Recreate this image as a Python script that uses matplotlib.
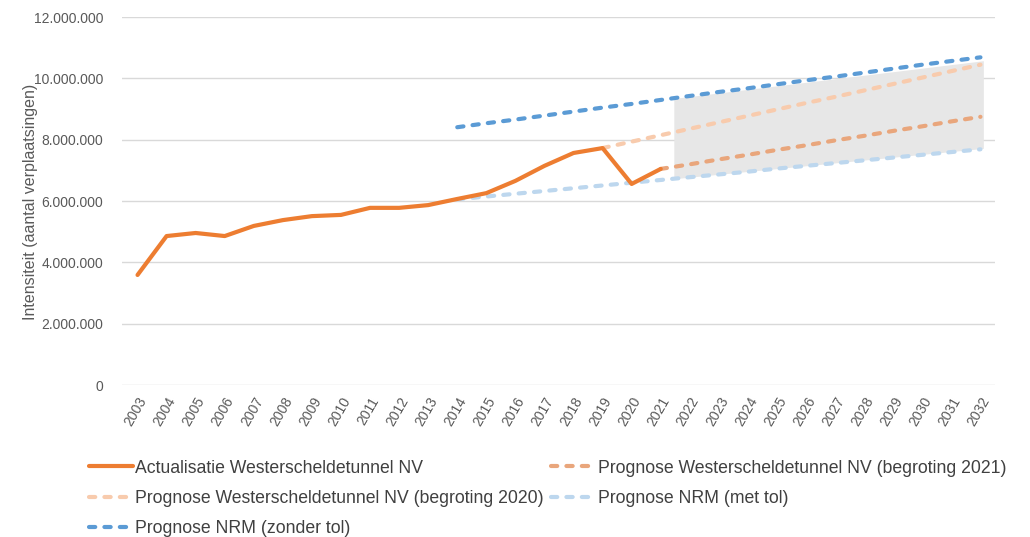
import numpy as np
import matplotlib
matplotlib.use("Agg")
import matplotlib.pyplot as plt
from matplotlib.ticker import FuncFormatter

plt.rcParams['font.family'] = ['Liberation Sans', 'DejaVu Sans']

# gegevens (miljoenen verplaatsingen)
years = list(range(2003, 2033))

act_years = list(range(2003, 2022))
act_vals = [3.59, 4.86, 4.96, 4.86, 5.19, 5.38, 5.51, 5.55, 5.78, 5.78,
            5.87, 6.07, 6.26, 6.66, 7.15, 7.57, 7.73, 6.56, 7.05]

b2021_years = list(range(2021, 2033))
b2021_vals = [7.05, 7.20, 7.36, 7.51, 7.67, 7.82, 7.98, 8.13, 8.29, 8.44, 8.60, 8.75]

b2020_years = list(range(2019, 2033))
b2020_vals = [7.73, 7.94, 8.15, 8.36, 8.57, 8.78, 8.99, 9.20, 9.40, 9.61,
              9.82, 10.03, 10.24, 10.45]

met_years = list(range(2014, 2033))
met_vals = [6.06, 6.15, 6.24, 6.33, 6.42, 6.51, 6.60, 6.69, 6.78, 6.87,
            6.96, 7.06, 7.15, 7.24, 7.33, 7.42, 7.51, 7.60, 7.69]

zonder_years = list(range(2014, 2033))
zonder_vals = [8.41, 8.54, 8.66, 8.79, 8.92, 9.05, 9.17, 9.30, 9.43, 9.56,
               9.68, 9.81, 9.94, 10.06, 10.19, 10.32, 10.45, 10.57, 10.69]

# grijze band (bandbreedte prognoses)
band_years = [2021.45, 2032.1]
band_low = [6.73, 7.72]
band_high = [9.35, 10.58]

labels = ["Actualisatie Westerscheldetunnel NV",
          "Prognose Westerscheldetunnel NV (begroting 2021)",
          "Prognose Westerscheldetunnel NV (begroting 2020)",
          "Prognose NRM (met tol)",
          "Prognose NRM (zonder tol)"]

M = 1e6

fig = plt.figure(figsize=(10.30, 5.37), dpi=100)
ax = fig.add_axes([0.118, 0.283, 0.848, 0.685])

ax.fill_between(band_years, np.array(band_low) * M, np.array(band_high) * M,
                color="#E7E7E7", lw=0, zorder=1)

lw = 3.0
dash = dict(linestyle=(0, (1.5, 2.2)), dash_capstyle="round")

l_b2020, = ax.plot(b2020_years, np.array(b2020_vals) * M, color="#F8CBAD", lw=lw, zorder=2, **dash)
l_met, = ax.plot(met_years, np.array(met_vals) * M, color="#BDD7EE", lw=lw, zorder=2, **dash)
l_zonder, = ax.plot(zonder_years, np.array(zonder_vals) * M, color="#5B9BD5", lw=lw, zorder=3, **dash)
l_b2021, = ax.plot(b2021_years, np.array(b2021_vals) * M, color="#E9A67C", lw=lw, zorder=3, **dash)
l_act, = ax.plot(act_years, np.array(act_vals) * M, color="#ED7D31", lw=lw, zorder=4,
                 solid_capstyle="round", solid_joinstyle="round")

ax.set_xlim(2002.45, 2032.5)
ax.set_ylim(0, 12 * M)
ax.set_yticks(np.arange(0, 12.1, 2) * M)
ax.yaxis.set_major_formatter(FuncFormatter(lambda v, p: f"{int(v):,}".replace(",", ".")))
ax.set_xticks(years)
ax.set_xticklabels([str(y) for y in years], rotation=60, ha="right", rotation_mode="anchor")
ax.tick_params(axis="both", length=0, colors="#595959", labelsize=10)
ax.tick_params(axis="x", pad=7)
ax.tick_params(axis="y", pad=13)
ax.grid(axis="y", color="#D9D9D9", lw=1)
ax.set_axisbelow(True)
for s in ax.spines.values():
    s.set_visible(False)

fig.text(0.03, 0.625, "Intensiteit (aantal verplaatsingen)", rotation=90,
         ha="center", va="center", color="#595959", fontsize=11.5)

handles = [l_act, l_b2020, l_zonder, l_b2021, l_met]
hl = [labels[0], labels[2], labels[4], labels[1], labels[3]]
fig.legend(handles, hl, ncol=2, loc="upper left", bbox_to_anchor=(0.086, 0.144),
           frameon=False, fontsize=12.7, handlelength=2.5, handletextpad=0.15,
           columnspacing=0.4, labelspacing=0.76, labelcolor="#404040",
           borderaxespad=0, borderpad=0)

fig.savefig("out.png", dpi=100)
